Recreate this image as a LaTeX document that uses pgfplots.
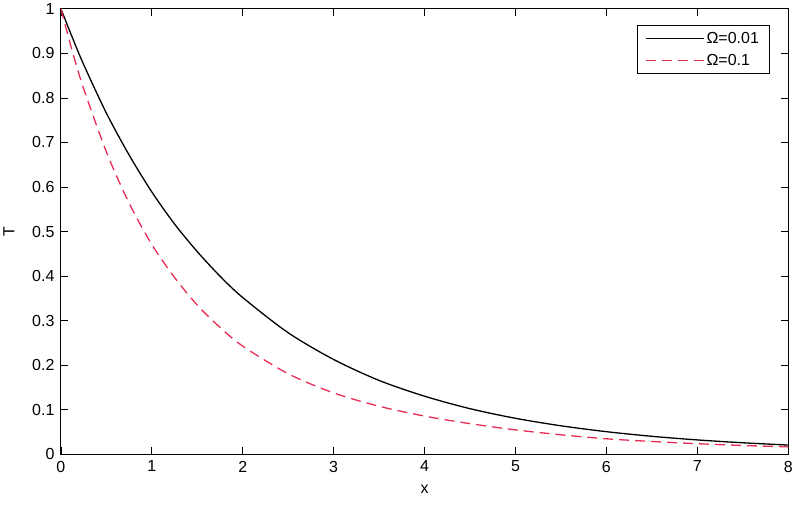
\documentclass[border=0pt]{standalone}
\usepackage{fontspec}
\setmainfont{Liberation Sans}
\usepackage{pgfplots}
\pgfplotsset{compat=1.18}
\definecolor{redline}{RGB}{232,45,85}

\begin{document}
\begin{tikzpicture}
\begin{axis}[
  scale only axis,
  width=728pt, height=446pt,
  xmin=0, xmax=8, ymin=0, ymax=1,
  xtick={0,1,...,8},
  ytick={0,0.1,...,1},
  yticklabels={0,0.1,0.2,0.3,0.4,0.5,0.6,0.7,0.8,0.9,1},
  tick align=inside,
  major tick length=7pt,
  tick style={black, line width=0.8pt},
  axis line style={line width=0.9pt},
  font=\fontsize{16}{18}\selectfont,
  /pgf/number format/assume math mode=true,
  xticklabel style={yshift=-3pt},
  yticklabel style={xshift=-3pt},
  xlabel={x}, ylabel={T},
  xlabel style={yshift=-6pt, text depth=10pt},
  ylabel style={yshift=11pt},
  legend style={at={(0.974,0.964)}, anchor=north east, draw=black, line width=0.8pt,
    font=\fontsize{16}{18}\selectfont, inner xsep=8pt, inner ysep=5pt,
    row sep=5pt},
  legend cell align=left,
  legend image code/.code={\draw[#1] (0pt,0pt) -- (58pt,0pt);},
]
\addplot[black, line width=1.3pt, smooth] coordinates {
 (0,1.0) (0.125,0.936) (0.25,0.875) (0.5,0.766) (0.75,0.672) (1,0.589) (1.25,0.517)
 (1.5,0.455) (1.75,0.400) (2,0.352) (2.5,0.273) (3,0.213) (3.5,0.166) (4,0.1306)
 (4.5,0.1026) (5,0.081) (5.5,0.0642) (6,0.051) (6.5,0.0406) (7,0.0325) (7.5,0.0261) (8,0.021)
};
\addlegendentry{Ω=0.01}
\addplot[redline, line width=1.3pt, smooth, dash pattern=on 10pt off 6pt] coordinates {
 (0,1.0) (0.125,0.905) (0.25,0.821) (0.5,0.679) (0.75,0.564) (1,0.471) (1.25,0.397)
 (1.5,0.335) (1.75,0.285) (2,0.243) (2.5,0.181) (3,0.138) (3.5,0.108) (4,0.086)
 (4.5,0.069) (5,0.055) (5.5,0.044) (6,0.035) (6.5,0.029) (7,0.024) (7.5,0.020) (8,0.017)
};
\addlegendentry{Ω=0.1}
\end{axis}
\end{tikzpicture}
\end{document}
